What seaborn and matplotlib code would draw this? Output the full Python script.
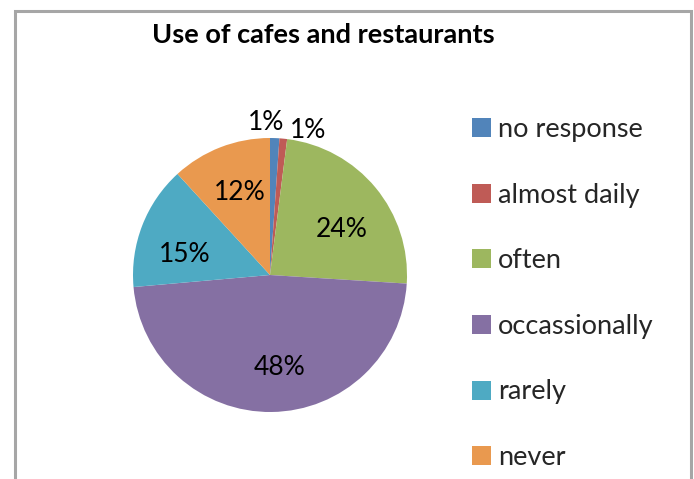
import matplotlib
matplotlib.use("Agg")
import matplotlib.pyplot as plt
from matplotlib.lines import Line2D
import numpy as np
import seaborn as sns

# Survey answers: how often respondents use cafes and restaurants (percent)
categories = ["no response", "almost daily", "often", "occassionally", "rarely", "never"]
shares = [1.1, 0.9, 24.0, 47.6, 14.6, 11.8]
title = "Use of cafes and restaurants"

colors = sns.color_palette(["#5184BA", "#BF5B56", "#9DB75F", "#8570A3", "#4EAAC3", "#E9994F"])

# label placement: radius (fraction of pie radius) and angle nudge (degrees)
label_radius = [1.11, 1.09, 0.62, 0.68, 0.64, 0.64]
label_nudge = [3.5, -9.0, -7.0, 5.0, 8.0, -1.0]

sns.set_theme(style="white")
plt.rcParams["font.family"] = ["Lato", "DejaVu Sans"]

W, H = 694, 479
fig = plt.figure(figsize=(W / 100, H / 100), dpi=100)
fig.patch.set_facecolor("white")

# pie axes: centre (270, 275) px, radius 137 px
cx, cy, r = 270, 275, 137
ax = fig.add_axes([(cx - r) / W, (H - cy - r) / H, 2 * r / W, 2 * r / H])
wedges, _ = ax.pie(shares, colors=colors, startangle=90, counterclock=False,
                   radius=1.0, wedgeprops=dict(linewidth=0))
ax.set_xlim(-1, 1)
ax.set_ylim(-1, 1)
ax.set_axis_off()

total = sum(shares)
for w, v, rf, nd in zip(wedges, shares, label_radius, label_nudge):
    mid = np.deg2rad((w.theta1 + w.theta2) / 2 + nd)
    ax.text(rf * np.cos(mid), rf * np.sin(mid), f"{round(100 * v / total):d}%",
            ha="center", va="center", fontsize=19, color="black", clip_on=False)

fig.text(323 / W, 1 - 35 / H, title, ha="center", va="center",
         fontsize=19.5, fontweight="bold", color="black")

leg = fig.legend(wedges, categories, loc="upper left",
                 bbox_to_anchor=(472 / W, 1 - 117 / H), frameon=False,
                 fontsize=19.5, handlelength=0.7, handleheight=0.7,
                 handletextpad=0.25, labelspacing=1.5, borderpad=0,
                 borderaxespad=0)

# chart-area border (open at the bottom)
border = Line2D([15 / W, 15 / W, 691 / W, 691 / W],
                [-0.05, 1 - 11 / H, 1 - 11 / H, -0.05],
                transform=fig.transFigure, color="#A6A6A6", linewidth=2.2,
                solid_joinstyle="miter")
fig.add_artist(border)

fig.savefig("out.png", dpi=100, facecolor="white")
